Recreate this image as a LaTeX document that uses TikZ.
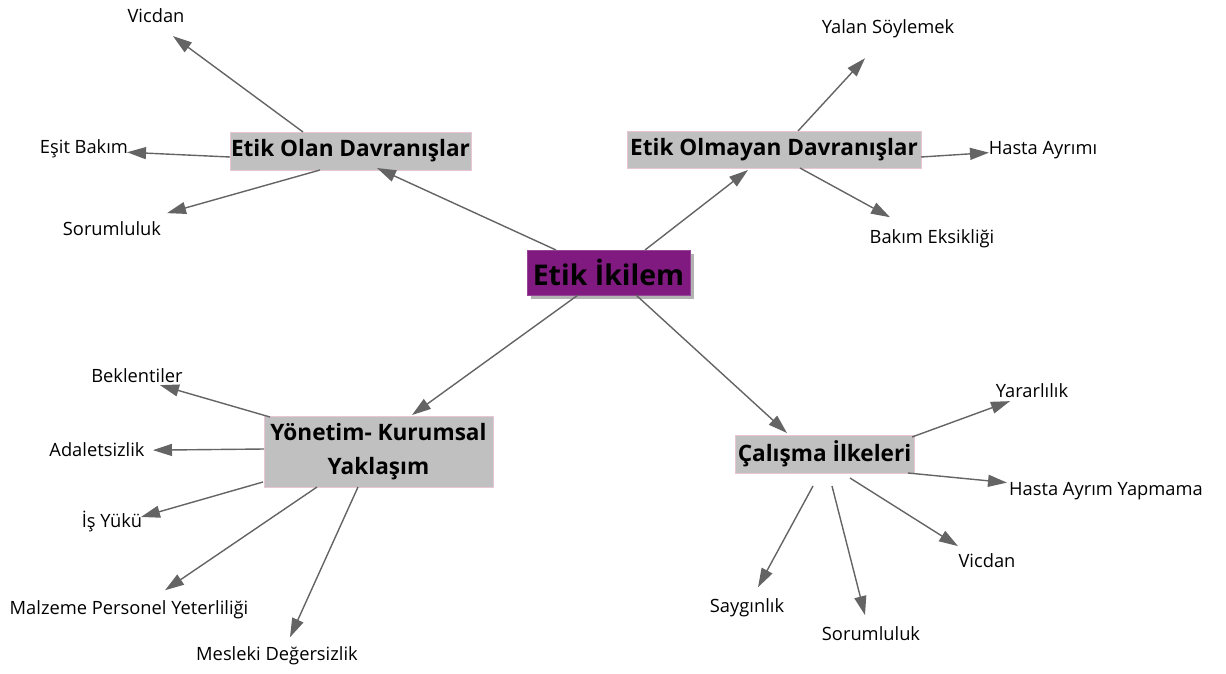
\documentclass[tikz,border=0pt]{standalone}
\usepackage{fontspec}
\setmainfont{Open Sans}
\usetikzlibrary{arrows.meta,calc,shadows}
\definecolor{hubfill}{RGB}{128,26,128}
\definecolor{hubedge}{RGB}{150,70,150}
\definecolor{boxfill}{RGB}{192,192,192}
\definecolor{boxedge}{RGB}{232,198,214}
\definecolor{linkgray}{RGB}{100,100,100}
\begin{document}
\begin{tikzpicture}[x=1pt,y=-1pt,
  hub/.style={fill=hubfill, draw=hubedge, line width=0.8pt, inner sep=0pt,
    minimum width=163pt, minimum height=45pt,
    font=\fontsize{28.5}{32}\selectfont\bfseries,
    drop shadow={shadow xshift=4pt, shadow yshift=-4pt, fill=black!30, opacity=1}},
  topic/.style={fill=boxfill, draw=boxedge, line width=1pt, inner sep=0pt,
    align=center, font=\fontsize{22.6}{34}\selectfont\bfseries},
  leaf/.style={inner sep=0pt, anchor=base, font=\fontsize{18.3}{21}\selectfont},
  link/.style={draw=linkgray, line width=1.4pt,
    -{Triangle[length=19pt,width=12pt]}}]
\useasboundingbox (0,0) rectangle (1226,673);

% centre and the four branches
\node[hub] (C) at (608.5,272.5) {Etik İkilem};
\node[topic, minimum width=241pt, minimum height=38pt] (OL) at (350.5,151) {Etik Olan Davranışlar};
\node[topic, minimum width=294pt, minimum height=37pt] (OM) at (774,149.5) {Etik Olmayan Davranışlar};
\node[topic, minimum width=229pt, minimum height=71pt] (YK) at (378.5,451.5) {Yönetim- Kurumsal\\Yaklaşım};
\node[topic, minimum width=179pt, minimum height=38pt] (CI) at (824.5,454) {Çalışma İlkeleri};

% leaves
\node[leaf] (v1) at (156,22) {Vicdan};
\node[leaf] (eb) at (84,153) {Eşit Bakım};
\node[leaf] (s1) at (112,235) {Sorumluluk};
\node[leaf] (ys) at (888,33) {Yalan Söylemek};
\node[leaf] (ha) at (1043,154) {Hasta Ayrımı};
\node[leaf] (be) at (932,243) {Bakım Eksikliği};
\node[leaf] (bk) at (137,382) {Beklentiler};
\node[leaf] (ad) at (97,456) {Adaletsizlik};
\node[leaf] (iy) at (112,527) {İş Yükü};
\node[leaf] (mp) at (129,614) {Malzeme Personel Yeterliliği};
\node[leaf] (md) at (277,660) {Mesleki Değersizlik};
\node[leaf] (yr) at (1032,397) {Yararlılık};
\node[leaf] (hy) at (1106,495) {Hasta Ayrım Yapmama};
\node[leaf] (v2) at (987,567) {Vicdan};
\node[leaf] (sg) at (747,612) {Saygınlık};
\node[leaf] (s2) at (871,640) {Sorumluluk};

% centre to branches
\draw[link] ($(C)+(-52.5,-22.5)$) -- ($(OL)+(26.5,17)$);
\draw[link] ($(C)+(36.5,-22.5)$) -- ($(OM)+(-26,20.5)$);
\draw[link] ($(C)+(-30.5,22.5)$) -- ($(YK)+(33.5,-36.5)$);
\draw[link] ($(C)+(27.5,22.5)$) -- ($(CI)+(-37.5,-21)$);

% Etik Olan Davranışlar
\draw[link] ($(OL)+(-47.5,-19)$) -- ($(v1)+(17,21)$);
\draw[link] ($(OL)+(-120.5,6)$) -- ($(eb)+(43,4)$);
\draw[link] ($(OL)+(-30.5,19)$) -- ($(s1)+(55,-15)$);

% Etik Olmayan Davranışlar
\draw[link] ($(OM)+(24,-18.5)$) -- ($(ys)+(-23,30)$);
\draw[link] ($(OM)+(147,7.5)$) -- ($(ha)+(-54,3)$);
\draw[link] ($(OM)+(26,18.5)$) -- ($(be)+(-42,-21)$);

% Yönetim- Kurumsal Yaklaşım
\draw[link] ($(YK)+(-108.5,-34.5)$) -- ($(bk)+(23,10)$);
\draw[link] ($(YK)+(-114.5,-2.5)$) -- ($(ad)+(56,1)$);
\draw[link] ($(YK)+(-115.5,30.5)$) -- ($(iy)+(29,-4)$);
\draw[link] ($(YK)+(-61.5,35.5)$) -- ($(mp)+(36,-19)$);
\draw[link] ($(YK)+(-20.5,35.5)$) -- ($(md)+(13,-18)$);

% Çalışma İlkeleri
\draw[link] ($(CI)+(87.5,-17)$) -- ($(yr)+(-22,11)$);
\draw[link] ($(CI)+(83.5,19)$) -- ($(hy)+(-99,-8)$);
\draw[link] ($(CI)+(25.5,24)$) -- ($(v2)+(-29,-14)$);
\draw[link] ($(CI)+(7.5,32)$) -- ($(s2)+(-6,-18)$);
\draw[link] ($(CI)+(-11.5,32)$) -- ($(sg)+(11,-20)$);
\end{tikzpicture}
\end{document}
